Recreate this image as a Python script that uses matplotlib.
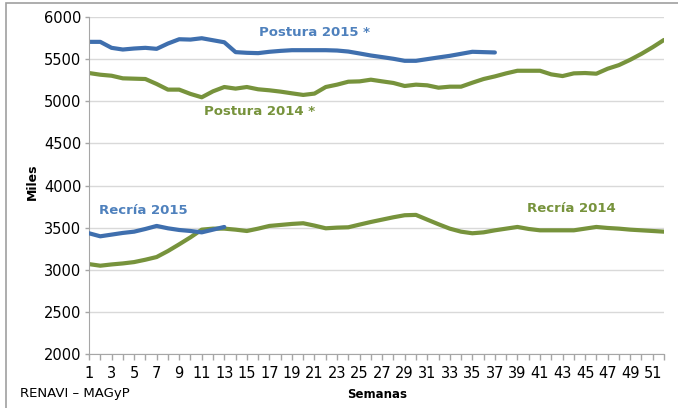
import matplotlib.pyplot as plt
from matplotlib.patches import Rectangle

BLUE = "#3f6fae"
BLUE_TEXT = "#4f81bd"
GREEN = "#77933c"
GRID = "#d9d9d9"
AXIS = "#a6a6a6"

weeks = list(range(1, 53))

postura_2015 = [5705, 5705, 5634, 5614, 5626, 5634, 5622, 5685, 5736, 5732,
                5748, 5724, 5700, 5583, 5575, 5571, 5587, 5598, 5606, 5606,
                5606, 5606, 5602, 5590, 5567, 5543, 5524, 5504, 5480, 5480,
                5500, 5520, 5539, 5563, 5587, 5583, 5579]

postura_2014 = [5335, 5315, 5303, 5272, 5268, 5264, 5205, 5138, 5138, 5087,
                5047, 5118, 5169, 5150, 5169, 5142, 5130, 5114, 5094, 5075,
                5091, 5169, 5197, 5232, 5236, 5256, 5236, 5217, 5181, 5197,
                5189, 5161, 5173, 5173, 5220, 5264, 5295, 5331, 5362, 5362,
                5362, 5319, 5299, 5331, 5335, 5327, 5386, 5429, 5492, 5563,
                5642, 5728]

recria_2015 = [3433, 3397, 3417, 3437, 3452, 3484, 3520, 3492, 3472, 3460,
               3444, 3476, 3508]

recria_2014 = [3067, 3048, 3063, 3075, 3091, 3119, 3151, 3222, 3302, 3385,
               3476, 3488, 3488, 3476, 3460, 3488, 3520, 3532, 3544, 3552,
               3524, 3492, 3500, 3504, 3536, 3567, 3595, 3623, 3647, 3651,
               3595, 3540, 3488, 3452, 3433, 3444, 3468, 3488, 3508, 3484,
               3468, 3468, 3468, 3468, 3488, 3508, 3496, 3488, 3476, 3468,
               3460, 3452]

y_ticks = [2000, 2500, 3000, 3500, 4000, 4500, 5000, 5500, 6000]

plt.rcParams['font.family'] = ['DejaVu Sans']

fig = plt.figure(figsize=(6.78, 4.08), dpi=100)
# outer frame of the pasted chart (only top and left edges show)
fig.patches.append(Rectangle((6 / 678, -0.1), 1.1, 1.1 - 3 / 408, transform=fig.transFigure,
                             fill=False, edgecolor="#a0a0a0", linewidth=1.2))

ax = fig.add_axes([89 / 678, 1 - 354 / 408, (664 - 89) / 678, (354 - 17) / 408])

ax.plot(weeks[:len(postura_2015)], postura_2015, color=BLUE, lw=3, solid_capstyle='round')
ax.plot(weeks, postura_2014, color=GREEN, lw=3, solid_capstyle='round')
ax.plot(weeks, recria_2014, color=GREEN, lw=3, solid_capstyle='round')
ax.plot(weeks[:len(recria_2015)], recria_2015, color=BLUE, lw=3, solid_capstyle='round', zorder=3)

ax.set_xlim(1, 52)
ax.set_ylim(2000, 6000)
ax.set_yticks(y_ticks)
ax.set_xticks(weeks, minor=True)
ax.set_xticks(weeks[::2])
ax.grid(axis='y', color=GRID, lw=1)
ax.set_axisbelow(True)

for s in ['top', 'right']:
    ax.spines[s].set_visible(False)
for s in ['left', 'bottom']:
    ax.spines[s].set_color(AXIS)
ax.tick_params(axis='both', which='both', color=AXIS, length=4, width=1, labelsize=10.5)
ax.tick_params(axis='x', pad=5)
ax.tick_params(axis='y', length=3, pad=2.5)

ax.text(21.0, 5814, "Postura 2015 *", color=BLUE_TEXT, fontsize=9.5, fontweight='bold',
        ha='center', va='center')
ax.text(16.1, 4876, "Postura 2014 *", color=GREEN, fontsize=9.5, fontweight='bold',
        ha='center', va='center')
ax.text(5.8, 3701, "Recría 2015", color=BLUE_TEXT, fontsize=9.5, fontweight='bold',
        ha='center', va='center')
ax.text(43.75, 3725, "Recría 2014", color=GREEN, fontsize=9.5, fontweight='bold',
        ha='center', va='center')

fig.text(32 / 678, 1 - 182 / 408, "Miles", rotation=90, fontsize=9, fontweight='bold',
         ha='center', va='center')
fig.text(377 / 678, 1 - 394 / 408, "Semanas", fontsize=8.5, fontweight='bold',
         ha='center', va='center')
fig.text(20 / 678, 1 - 393 / 408, "RENAVI – MAGyP", fontsize=9.5, ha='left', va='center')

fig.savefig("out.png", dpi=100)
plt.close(fig)
